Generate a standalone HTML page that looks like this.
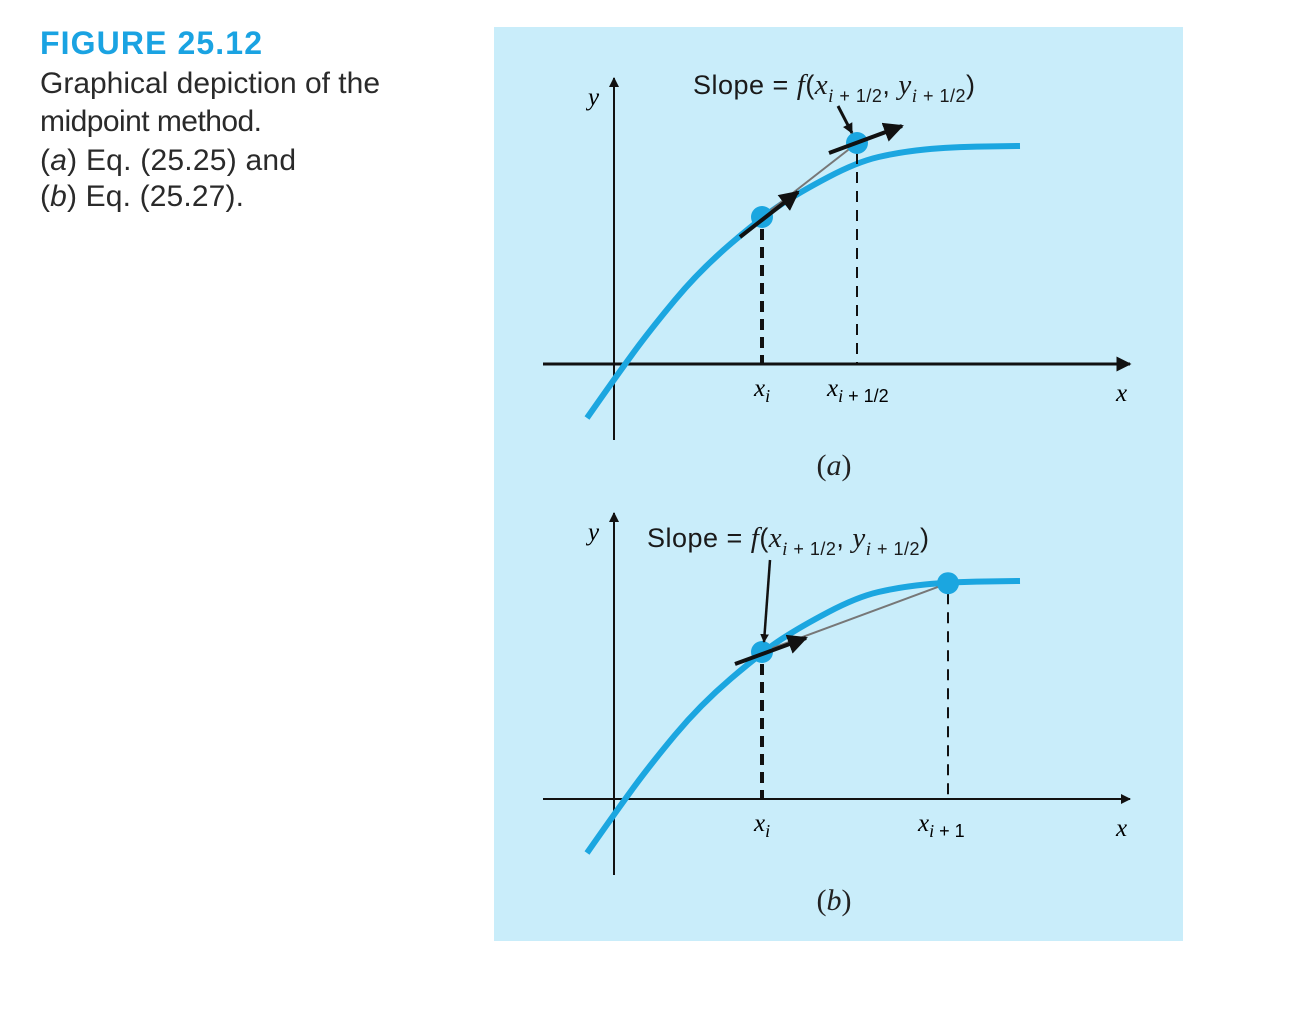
<!DOCTYPE html>
<html><head><meta charset="utf-8"><style>
html,body{margin:0;padding:0;background:#fff;}
svg{display:block;}
.cap{font-family:"Liberation Sans",sans-serif;font-size:30px;fill:#2a2a2a;font-weight:300;}
.sl{font-family:"Liberation Sans",sans-serif;font-size:27px;fill:#1a1a1a;}
.it{font-family:"Liberation Serif",serif;font-style:italic;}
.sub{font-family:"Liberation Sans",sans-serif;font-size:18px;}
</style></head><body>
<svg id="fig" width="1300" height="1012" viewBox="0 0 1300 1012" xmlns="http://www.w3.org/2000/svg">
<defs>
<marker id="ah" viewBox="0 0 10 10" refX="9" refY="5" markerWidth="5" markerHeight="5" orient="auto"><path d="M0,0L10,5L0,10z" fill="#111"/></marker>
<marker id="ahs" viewBox="0 0 10 10" refX="9" refY="5" markerWidth="3.5" markerHeight="3.5" orient="auto"><path d="M0,0L10,5L0,10z" fill="#111"/></marker>
<marker id="axh" viewBox="0 0 10 10" refX="9" refY="5" markerWidth="6" markerHeight="5" orient="auto"><path d="M0,0L10,5L0,10z" fill="#111"/></marker>
</defs>
<text x="40" y="54" style="font-family:'Liberation Sans',sans-serif;font-weight:bold;font-size:32px;fill:#1aa3e2" textLength="222">FIGURE 25.12</text>
<text class="cap" x="40" y="93" textLength="340">Graphical depiction of the</text>
<text class="cap" x="40" y="131" textLength="222">midpoint method.</text>
<text class="cap" x="40" y="170" textLength="256">(<tspan font-style="italic">a</tspan>) Eq. (25.25) and</text>
<text class="cap" x="40" y="206" textLength="204">(<tspan font-style="italic">b</tspan>) Eq. (25.27).</text>
<rect x="494" y="27" width="689" height="914" fill="#c9edfa"/>
<g id="pa"></g>
<g id="pb"></g>
</svg>
<script>
// curve sample points (pixel coords in panel a)
const curveX = [587, 615, 650, 700, 762, 800, 857, 900, 950, 1020];
const curveY = [418, 378, 330, 270, 217, 192, 162, 152, 147, 146];
const xiX = [762, 762];
const nextX = [857, 948];
const panelOffsets = [0, 435];
const NS = "http://www.w3.org/2000/svg";
function el(parent, tag, attrs){const e=document.createElementNS(NS,tag);for(const k in attrs)e.setAttribute(k,attrs[k]);parent.appendChild(e);return e;}
function curvePath(dy){
  let d="M"+curveX[0]+","+(curveY[0]+dy);
  for(let i=1;i<curveX.length-1;i++){
    const mx=(curveX[i]+curveX[i+1])/2, my=(curveY[i]+curveY[i+1])/2+dy;
    d+=" Q"+curveX[i]+","+(curveY[i]+dy)+" "+mx+","+my;
  }
  d+=" L"+curveX[curveX.length-1]+","+(curveY[curveY.length-1]+dy);
  return d;
}
function curveYAt(x){for(let i=0;i<curveX.length-1;i++){if(x>=curveX[i]&&x<=curveX[i+1]){const t=(x-curveX[i])/(curveX[i+1]-curveX[i]);return curveY[i]+t*(curveY[i+1]-curveY[i]);}}return curveY[curveY.length-1];}
function txt(g,x,y,html,cls,name){const t=el(g,"text",{x:x,y:y,class:cls||""});t.innerHTML=html;


return t;}
function panel(id, idx){
  const g=document.getElementById(id), dy=panelOffsets[idx], ax=364+dy;
  const xa=el(g,"line",{x1:543,y1:ax,x2:1130,y2:ax,stroke:"#111","stroke-width":idx?2:3,"marker-end":"url(#axh)"});
  
  
  const ya=el(g,"line",{x1:614,y1:ax+76,x2:614,y2:ax-286,stroke:"#111","stroke-width":2,"marker-end":"url(#axh)"});
  
  
  txt(g,588,ax-259,"y","it","y-axis-label").setAttribute("font-size","25");
  txt(g,1116,ax+37,"x","it","x-axis-label").setAttribute("font-size","25");
  const c=el(g,"path",{d:curvePath(dy),fill:"none",stroke:"#1ba6e0","stroke-width":6,"stroke-linecap":"butt"});
  
  
  const x0=xiX[idx], y0=curveYAt(x0)+dy, x1=nextX[idx];
  const y1 = idx===0 ? 143 : curveYAt(x1)+dy+1;
  const d1=el(g,"line",{x1:x0,y1:y0+12,x2:x0,y2:ax,stroke:"#111","stroke-width":4,"stroke-dasharray":"11,7"});
  
  
  const d2=el(g,"line",{x1:x1,y1:y1+10,x2:x1,y2:ax,stroke:"#111","stroke-width":2,"stroke-dasharray":"11,8"});
  
  
  const gl=el(g,"line",{x1:x0,y1:y0,x2:x1,y2:y1,stroke:"#777","stroke-width":2});
  
  
  const p0=el(g,"circle",{cx:x0,cy:y0,r:11,fill:"#1ba6e0"});
  
  
  const p1=el(g,"circle",{cx:x1,cy:y1,r:11,fill:"#1ba6e0"});
  
  
  if(idx===0){
    const a1=el(g,"line",{x1:740,y1:237,x2:798,y2:192,stroke:"#111","stroke-width":4,"marker-end":"url(#ah)"});
    
    
    const a2=el(g,"line",{x1:829,y1:153,x2:902,y2:126,stroke:"#111","stroke-width":4,"marker-end":"url(#ah)"});
    
    
    const pt=el(g,"line",{x1:838,y1:106,x2:852,y2:133,stroke:"#111","stroke-width":3,"marker-end":"url(#ahs)"});
    
    
  } else {
    const a2=el(g,"line",{x1:735,y1:dy+229,x2:806,y2:dy+203,stroke:"#111","stroke-width":4,"marker-end":"url(#ah)"});
    
    
    const pt=el(g,"line",{x1:770,y1:dy+125,x2:764,y2:dy+207,stroke:"#111","stroke-width":2.5,"marker-end":"url(#ahs)"});
    
    
  }
  const sx = idx===0 ? 693 : 647, sy = idx===0 ? 94 : 547;
  const sl=txt(g,sx,sy,'Slope = <tspan class="it" font-size="29">f</tspan>(<tspan class="it" font-size="29">x</tspan><tspan class="sub" dy="8"><tspan class="it" font-size="19">i</tspan> + 1/2</tspan><tspan dy="-8">, </tspan><tspan class="it" font-size="29">y</tspan><tspan class="sub" dy="8"><tspan class="it" font-size="19">i</tspan> + 1/2</tspan><tspan dy="-8">)</tspan>',"sl","slope-label");
  sl.setAttribute("textLength","282");
  txt(g,x0-8,ax+32,'<tspan class="it" font-size="25">x</tspan><tspan class="it" font-size="18" dy="6">i</tspan>',"","xi-label");
  txt(g,x1-30,ax+32,'<tspan class="it" font-size="25">x</tspan><tspan dy="6" class="sub"><tspan class="it">i</tspan>'+(idx?' + 1':' + 1/2')+'</tspan>',"","next-x-label");
  const pl=txt(g,834,ax+111,idx?"(<tspan font-style='italic'>b</tspan>)":"(<tspan font-style='italic'>a</tspan>)","","panel-label");
  pl.setAttribute("text-anchor","middle");
  pl.setAttribute("style","font-family:'Liberation Serif',serif;font-size:30px;fill:#222");
}
panel("pa",0);
panel("pb",1);
</script>
</body></html>
